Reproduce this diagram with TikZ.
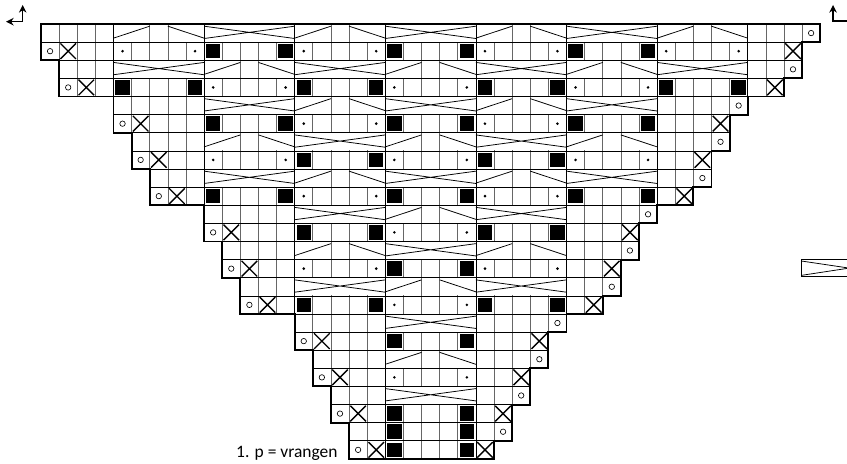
\documentclass[tikz,border=0pt]{standalone}
\usepackage{fontspec}
\newfontfamily\chartfont{Carlito}
\usepackage{tikz}
\usetikzlibrary{arrows.meta}
% row / first column / last column of the chart
\newcommand{\rowlist}{0/0/42,1/0/41,2/1/41,3/1/40,4/4/38,5/4/37,6/5/37,7/5/36,8/6/36,9/6/35,10/9/33,11/9/32,12/10/32,13/10/31,14/11/31,15/11/30,16/14/28,17/14/27,18/15/27,19/15/26,20/16/26,21/16/25,22/17/25,23/17/24}
\newcommand{\decmark}[2]{\draw[dec] (#1+0.07,#2-0.07) -- (#1+0.93,#2-0.93) (#1+0.07,#2-0.93) -- (#1+0.93,#2-0.07);}

\begin{document}
\begin{tikzpicture}[>={Stealth[length=6pt,width=6pt]},x=0.5cm,y=0.5cm,
  gridv/.style={gray!80!black,line width=0.5pt},
  gridh/.style={black,line width=0.5pt},
  blockline/.style={black,line width=0.6pt},
  rim/.style={black,line width=1.5pt,line join=miter},
  cable/.style={black,line width=0.6pt},
  dec/.style={black,line width=1.1pt},
  yarnover/.style={black,line width=0.5pt}]
  \useasboundingbox (-2.263,1.325) rectangle (44.48,-24.23);
  \clip (-2.263,1.325) rectangle (44.48,-24.23);

  % Cell walls
  \foreach \t/\l/\r in \rowlist {
    \pgfmathtruncatemacro{\rr}{\r+1}
    \foreach \c in {\l,...,\rr} \draw[gridv] (\c,-\t) -- (\c,-\t-1);
  }

  % Pattern blocks: 0 half cables, 1 full cable, 2 dots, 3 purl squares
  \foreach \t/\l/\r in \rowlist {
    \pgfmathtruncatemacro{\kmin}{(\t>3)+(\t>9)+(\t>15)}
    \pgfmathtruncatemacro{\kmax}{6-\kmin}
    \foreach \k in {\kmin,...,\kmax} {
      \pgfmathtruncatemacro{\bx}{4+5*\k}
      \pgfmathtruncatemacro{\ty}{\t>21 ? 3 : 2*mod(\t,2)+mod(floor(\t/2)+\k,2)}
      \ifcase\ty
        \fill[white] (\bx+0.04,-\t-0.97) rectangle (\bx+1.96,-\t-0.03);
        \fill[white] (\bx+3.04,-\t-0.97) rectangle (\bx+4.96,-\t-0.03);
        \draw[cable] (\bx,-\t-0.78) -- (\bx+2,-\t-0.12);
        \draw[cable] (\bx+3,-\t-0.12) -- (\bx+5,-\t-0.78);
      \or
        \fill[white] (\bx+0.04,-\t-0.97) rectangle (\bx+4.96,-\t-0.03);
        \draw[cable] (\bx,-\t-0.12) -- (\bx+5,-\t-0.8) (\bx,-\t-0.8) -- (\bx+5,-\t-0.12);
      \or
        \fill (\bx+0.5,-\t-0.5) circle (0.08) (\bx+4.5,-\t-0.5) circle (0.08);
      \or
        \fill (\bx+0.1,-\t-0.9) rectangle (\bx+0.9,-\t-0.1);
        \fill (\bx+4.1,-\t-0.9) rectangle (\bx+4.9,-\t-0.1);
      \fi
      \draw[blockline] (\bx,-\t) -- (\bx,-\t-1) (\bx+5,-\t) -- (\bx+5,-\t-1);
    }
  }

  % Row lines
  \foreach \t/\l/\r in \rowlist
    \draw[gridh] (\l,-\t) -- (\r+1,-\t) (\l,-\t-1) -- (\r+1,-\t-1);

  % Yarn overs and decreases at the edges
  \foreach \t/\l/\r in \rowlist {
    \pgfmathtruncatemacro{\odd}{mod(\t,2)}
    \ifnum\odd=1
      \draw[yarnover] (\l+0.5,-\t-0.5) circle (0.15);
      \decmark{\l+1}{-\t}
      \decmark{\r}{-\t}
    \else
      \draw[yarnover] (\r+0.5,-\t-0.5) circle (0.15);
    \fi
  }

  % Outline
  \draw[rim] (0,0) -- (43,0)
    \foreach \t/\l/\r in \rowlist { -- (\r+1,-\t) -- (\r+1,-\t-1) }
    -- (17,-24)
    \foreach \t/\l in {23/17,22/17,21/16,20/16,19/15,18/15,17/14,16/14,15/11,14/11,13/10,12/10,11/9,10/9,9/6,8/6,7/5,6/5,5/4,4/4,3/1,2/1,1/0,0/0} { -- (\l,-\t-1) -- (\l,-\t) }
    -- cycle;

  % Direction arrows
  \coordinate (leftturn) at (-1.01,0.13);
  \coordinate (rightturn) at (43.71,0.17);
  \draw[<->,line width=1pt] (-1.93,0.13) -- (leftturn) -- (-1.01,1.05);
  \draw[<->,line width=1pt] (45.2,0.17) -- (rightturn) -- (43.71,1.05);

  % Legend symbol
  \draw[line width=0.8pt] (41.95,-13) rectangle (46,-13.95);
  \draw[cable] (41.97,-13.08) -- (44.6,-13.47) -- (41.97,-13.87);

  \node[anchor=base west,inner sep=0pt,font=\chartfont\fontsize{13.7}{16}\selectfont] (castonlbl) at (10.76,-23.92) {1. p = vrangen};
\end{tikzpicture}
\end{document}
